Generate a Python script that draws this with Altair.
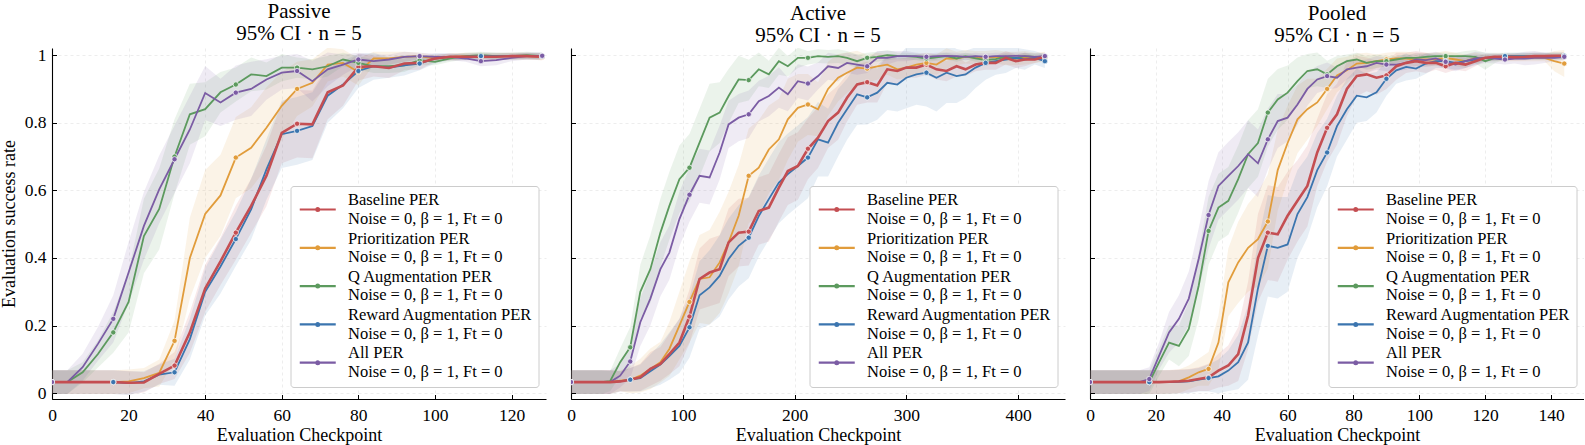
import altair as alt
import pandas as pd

FONT = "Liberation Serif"

# Series names, the shared second legend line, and colours
SERIES = ["Baseline PER", "Prioritization PER", "Q Augmentation PER",
          "Reward Augmentation PER", "All PER"]
SETTINGS = "Noise = 0, β = 1, Ft = 0"
COLORS = ["#c44e52", "#e19c3b", "#5c9a5e", "#3b75af", "#7b5ca4"]
LABELS = [f"{s}|{SETTINGS}" for s in SERIES]

Y_TICKS = [0, 0.2, 0.4, 0.6, 0.8, 1]

# ---------------- Passive ----------------
passive_x = list(range(0, 129, 4))
passive_xticks = [0, 20, 40, 60, 80, 100, 120]
passive_baseline = [0.033, 0.033, 0.033, 0.033, 0.033, 0.031, 0.032, 0.057, 0.082, 0.18,
                    0.31, 0.39, 0.475, 0.554, 0.643, 0.77, 0.797, 0.795, 0.89, 0.91,
                    0.965, 0.967, 0.962, 0.975, 0.977, 0.99, 0.995, 0.995, 0.995, 0.995,
                    0.997, 0.997, 0.995]
passive_prior = [0.033, 0.033, 0.033, 0.033, 0.033, 0.035, 0.045, 0.06, 0.155, 0.40,
                 0.53, 0.585, 0.697, 0.726, 0.785, 0.85, 0.90, 0.918, 0.972, 0.977,
                 0.95, 0.99, 0.99, 0.995, 0.997, 0.99, 0.995, 0.997, 0.997, 0.997,
                 0.997, 0.997, 0.995]
passive_qaug = [0.033, 0.033, 0.062, 0.116, 0.18, 0.27, 0.465, 0.545, 0.70, 0.825,
                0.84, 0.89, 0.913, 0.943, 0.938, 0.963, 0.963, 0.958, 0.967, 0.987,
                0.977, 0.967, 0.967, 0.97, 0.985, 0.98, 0.99, 0.997, 1.0, 0.997,
                0.997, 1.0, 0.997]
passive_reward = [0.033, 0.033, 0.033, 0.033, 0.033, 0.030, 0.035, 0.055, 0.062, 0.16,
                  0.30, 0.375, 0.456, 0.544, 0.662, 0.766, 0.776, 0.79, 0.88, 0.913,
                  0.953, 0.967, 0.963, 0.97, 0.975, 0.99, 0.995, 0.995, 0.997, 0.997,
                  0.997, 0.997, 0.997]
passive_all = [0.033, 0.033, 0.077, 0.146, 0.22, 0.357, 0.495, 0.603, 0.692, 0.78,
               0.888, 0.86, 0.889, 0.90, 0.928, 0.948, 0.953, 0.923, 0.958, 0.972,
               0.987, 0.982, 0.987, 0.995, 0.997, 0.995, 0.995, 0.99, 0.982, 0.985,
               0.992, 0.997, 0.998]
# 95% CI half-widths
passive_baseline_ci = [0.035, 0.035, 0.035, 0.035, 0.035, 0.035, 0.03, 0.03, 0.04, 0.06,
                       0.07, 0.07, 0.08, 0.08, 0.09, 0.09, 0.1, 0.1, 0.08, 0.06,
                       0.04, 0.03, 0.03, 0.02, 0.02, 0.01, 0.01, 0.01, 0.01, 0.01,
                       0.01, 0.01, 0.01]
passive_prior_ci = [0.035, 0.035, 0.035, 0.035, 0.035, 0.035, 0.03, 0.04, 0.06, 0.12,
                    0.13, 0.12, 0.12, 0.12, 0.12, 0.1, 0.08, 0.07, 0.05, 0.04,
                    0.04, 0.02, 0.02, 0.015, 0.01, 0.01, 0.01, 0.01, 0.01, 0.01,
                    0.01, 0.01, 0.01]
passive_qaug_ci = [0.035, 0.035, 0.03, 0.04, 0.06, 0.09, 0.11, 0.12, 0.11, 0.09,
                   0.08, 0.06, 0.05, 0.05, 0.04, 0.04, 0.03, 0.03, 0.03, 0.02,
                   0.02, 0.02, 0.02, 0.02, 0.015, 0.01, 0.01, 0.01, 0.01, 0.01,
                   0.01, 0.01, 0.01]
passive_reward_ci = [0.035, 0.035, 0.035, 0.035, 0.035, 0.035, 0.03, 0.03, 0.04, 0.06,
                     0.07, 0.08, 0.08, 0.09, 0.09, 0.1, 0.1, 0.1, 0.08, 0.07,
                     0.05, 0.04, 0.03, 0.03, 0.02, 0.015, 0.01, 0.01, 0.01, 0.01,
                     0.01, 0.01, 0.01]
passive_all_ci = [0.035, 0.035, 0.04, 0.05, 0.07, 0.09, 0.1, 0.1, 0.1, 0.1,
                  0.08, 0.07, 0.08, 0.08, 0.06, 0.05, 0.05, 0.06, 0.05, 0.03,
                  0.02, 0.02, 0.015, 0.015, 0.01, 0.01, 0.01, 0.01, 0.015, 0.015,
                  0.01, 0.01, 0.01]

# ---------------- Active ----------------
active_x = [0, 9, 18, 27, 35, 44, 53, 62, 71, 80, 88, 97, 106, 115, 124, 133, 141, 150,
            159, 168, 177, 186, 194, 203, 212, 221, 230, 239, 247, 256, 265, 274, 283, 292,
            300, 309, 318, 327, 336, 345, 353, 362, 371, 380, 389, 398, 406, 415, 424]
active_xticks = [0, 100, 200, 300, 400]
active_baseline = [0.033, 0.033, 0.033, 0.033, 0.033, 0.035, 0.04, 0.047, 0.072, 0.087,
                   0.116, 0.15, 0.227, 0.338, 0.357, 0.367, 0.446, 0.475, 0.478, 0.539,
                   0.549, 0.608, 0.657, 0.672, 0.723, 0.756, 0.805, 0.83, 0.874, 0.913,
                   0.92, 0.91, 0.958, 0.953, 0.963, 0.963, 0.972, 0.958, 0.953, 0.967,
                   0.958, 0.972, 0.977, 0.977, 0.992, 0.982, 0.987, 0.987, 0.995]
active_prior = [0.033, 0.033, 0.033, 0.033, 0.033, 0.037, 0.04, 0.052, 0.072, 0.092,
                0.131, 0.2, 0.27, 0.338, 0.343, 0.387, 0.446, 0.525, 0.643, 0.667,
                0.721, 0.751, 0.81, 0.844, 0.854, 0.84, 0.9, 0.933, 0.948, 0.963,
                0.96, 0.967, 0.972, 0.958, 0.963, 0.972, 0.977, 0.972, 0.99, 0.99,
                0.995, 0.992, 0.992, 0.995, 0.99, 0.99, 0.992, 0.992, 0.995]
active_qaug = [0.033, 0.033, 0.033, 0.033, 0.036, 0.092, 0.136, 0.3, 0.367, 0.475,
               0.554, 0.633, 0.667, 0.741, 0.815, 0.83, 0.879, 0.928, 0.926, 0.958,
               0.943, 0.982, 0.967, 0.992, 0.992, 0.997, 0.995, 0.997, 0.992, 0.982,
               0.992, 0.995, 1.0, 0.998, 0.997, 0.995, 0.99, 0.993, 0.997, 0.99,
               0.997, 0.99, 0.985, 0.988, 0.995, 0.99, 0.997, 0.995, 0.995]
active_reward = [0.033, 0.033, 0.033, 0.033, 0.033, 0.035, 0.04, 0.045, 0.065, 0.085,
                 0.11, 0.14, 0.195, 0.29, 0.313, 0.347, 0.397, 0.436, 0.46, 0.524,
                 0.574, 0.623, 0.648, 0.672, 0.697, 0.751, 0.741, 0.8, 0.84, 0.884,
                 0.875, 0.889, 0.918, 0.913, 0.933, 0.943, 0.948, 0.933, 0.948, 0.938,
                 0.943, 0.963, 0.977, 0.982, 0.987, 0.992, 0.987, 0.992, 0.982]
active_all = [0.033, 0.033, 0.033, 0.033, 0.033, 0.052, 0.094, 0.21, 0.28, 0.367,
              0.416, 0.515, 0.587, 0.643, 0.638, 0.712, 0.795, 0.815, 0.825, 0.864,
              0.879, 0.904, 0.884, 0.923, 0.916, 0.938, 0.967, 0.962, 0.977, 0.972,
              0.967, 0.992, 0.992, 0.997, 0.997, 0.997, 0.995, 0.997, 0.998, 0.997,
              0.995, 0.997, 0.995, 0.997, 0.997, 0.998, 0.997, 0.995, 0.997]
active_baseline_ci = [0.035, 0.035, 0.035, 0.035, 0.035, 0.03, 0.035, 0.04, 0.05, 0.05,
                      0.06, 0.07, 0.08, 0.09, 0.1, 0.1, 0.1, 0.1, 0.1, 0.1,
                      0.1, 0.1, 0.1, 0.1, 0.09, 0.09, 0.08, 0.08, 0.07, 0.06,
                      0.06, 0.05, 0.04, 0.04, 0.03, 0.03, 0.03, 0.03, 0.03, 0.03,
                      0.02, 0.02, 0.02, 0.02, 0.02, 0.02, 0.02, 0.01, 0.01]
active_prior_ci = [0.035, 0.035, 0.035, 0.035, 0.035, 0.03, 0.04, 0.05, 0.06, 0.06,
                   0.08, 0.1, 0.12, 0.13, 0.14, 0.15, 0.15, 0.15, 0.14, 0.14,
                   0.13, 0.12, 0.12, 0.1, 0.09, 0.08, 0.08, 0.07, 0.06, 0.05,
                   0.04, 0.04, 0.03, 0.03, 0.03, 0.03, 0.03, 0.03, 0.03, 0.02,
                   0.02, 0.02, 0.02, 0.02, 0.02, 0.02, 0.02, 0.015, 0.015]
active_qaug_ci = [0.035, 0.035, 0.035, 0.035, 0.03, 0.04, 0.06, 0.08, 0.1, 0.1,
                  0.1, 0.1, 0.1, 0.1, 0.1, 0.09, 0.08, 0.07, 0.06, 0.05,
                  0.04, 0.04, 0.03, 0.03, 0.02, 0.02, 0.02, 0.02, 0.02, 0.02,
                  0.015, 0.015, 0.015, 0.01, 0.01, 0.01, 0.01, 0.01, 0.01, 0.01,
                  0.01, 0.01, 0.01, 0.01, 0.01, 0.01, 0.01, 0.01, 0.01]
active_reward_ci = [0.035, 0.035, 0.035, 0.035, 0.035, 0.03, 0.035, 0.04, 0.05, 0.06,
                    0.07, 0.08, 0.09, 0.1, 0.11, 0.12, 0.12, 0.12, 0.12, 0.12,
                    0.12, 0.12, 0.12, 0.12, 0.12, 0.11, 0.1, 0.1, 0.09, 0.09,
                    0.08, 0.08, 0.08, 0.08, 0.09, 0.09, 0.1, 0.1, 0.09, 0.08,
                    0.07, 0.06, 0.05, 0.04, 0.04, 0.03, 0.03, 0.02, 0.02]
active_all_ci = [0.035, 0.035, 0.035, 0.035, 0.035, 0.035, 0.05, 0.07, 0.08, 0.08,
                 0.08, 0.08, 0.08, 0.08, 0.08, 0.08, 0.07, 0.07, 0.07, 0.06,
                 0.06, 0.06, 0.05, 0.05, 0.05, 0.04, 0.04, 0.04, 0.03, 0.03,
                 0.02, 0.02, 0.02, 0.015, 0.015, 0.01, 0.01, 0.01, 0.01, 0.01,
                 0.01, 0.01, 0.01, 0.01, 0.01, 0.01, 0.01, 0.01, 0.01]

# ---------------- Pooled ----------------
pooled_x = list(range(0, 145, 3))
pooled_xticks = [0, 20, 40, 60, 80, 100, 120, 140]
pooled_baseline = [0.033, 0.033, 0.033, 0.033, 0.033, 0.033, 0.033, 0.033, 0.034, 0.035,
                   0.037, 0.042, 0.047, 0.067, 0.082, 0.116, 0.23, 0.40, 0.475, 0.47,
                   0.525, 0.569, 0.613, 0.712, 0.785, 0.825, 0.9, 0.938, 0.943, 0.933,
                   0.94, 0.967, 0.977, 0.982, 0.977, 0.977, 0.967, 0.977, 0.972, 0.982,
                   0.992, 0.995, 0.995, 0.994, 0.995, 0.997, 0.997, 0.998, 0.998]
pooled_prior = [0.033, 0.033, 0.033, 0.033, 0.033, 0.033, 0.033, 0.033, 0.033, 0.035,
                0.047, 0.062, 0.072, 0.15, 0.328, 0.387, 0.43, 0.456, 0.508, 0.66,
                0.74, 0.81, 0.84, 0.86, 0.90, 0.94, 0.955, 0.975, 0.977, 0.982,
                0.987, 0.99, 0.99, 0.987, 0.987, 0.987, 0.992, 0.987, 0.982, 0.992,
                0.992, 0.992, 0.992, 0.992, 0.992, 0.992, 0.992, 0.982, 0.975]
pooled_qaug = [0.033, 0.033, 0.033, 0.033, 0.033, 0.033, 0.033, 0.092, 0.15, 0.14,
               0.19, 0.318, 0.48, 0.549, 0.569, 0.633, 0.707, 0.74, 0.83, 0.869,
               0.889, 0.923, 0.953, 0.958, 0.943, 0.967, 0.982, 0.987, 0.977, 0.982,
               0.982, 0.987, 0.992, 0.992, 0.995, 0.997, 0.997, 0.997, 0.997, 0.995,
               0.982, 0.992, 0.997, 0.997, 0.997, 0.997, 0.997, 0.997, 0.997]
pooled_reward = [0.033, 0.033, 0.033, 0.033, 0.033, 0.033, 0.033, 0.033, 0.033, 0.034,
                 0.035, 0.04, 0.045, 0.05, 0.067, 0.092, 0.15, 0.31, 0.436, 0.43,
                 0.44, 0.53, 0.58, 0.66, 0.712, 0.79, 0.84, 0.88, 0.875, 0.89,
                 0.93, 0.955, 0.965, 0.96, 0.975, 0.982, 0.982, 0.977, 0.982, 0.987,
                 0.992, 0.992, 0.997, 0.997, 0.997, 0.997, 0.997, 0.998, 0.998]
pooled_all = [0.033, 0.033, 0.033, 0.033, 0.033, 0.033, 0.042, 0.111, 0.18, 0.22,
              0.28, 0.397, 0.527, 0.613, 0.643, 0.672, 0.707, 0.68, 0.751, 0.805,
              0.815, 0.854, 0.9, 0.928, 0.938, 0.933, 0.958, 0.963, 0.967, 0.977,
              0.972, 0.972, 0.977, 0.987, 0.985, 0.99, 0.98, 0.972, 0.982, 0.99,
              0.992, 0.99, 0.987, 0.99, 0.99, 0.992, 0.992, 0.992, 0.995]
pooled_baseline_ci = [0.035, 0.035, 0.035, 0.035, 0.035, 0.035, 0.035, 0.035, 0.035, 0.035,
                      0.035, 0.035, 0.04, 0.05, 0.06, 0.08, 0.1, 0.13, 0.14, 0.14,
                      0.13, 0.12, 0.12, 0.1, 0.1, 0.09, 0.08, 0.06, 0.05, 0.05,
                      0.04, 0.04, 0.03, 0.03, 0.03, 0.02, 0.02, 0.02, 0.02, 0.015,
                      0.01, 0.01, 0.01, 0.01, 0.01, 0.01, 0.01, 0.01, 0.01]
pooled_prior_ci = [0.035, 0.035, 0.035, 0.035, 0.035, 0.035, 0.035, 0.035, 0.035, 0.035,
                   0.035, 0.04, 0.05, 0.08, 0.1, 0.12, 0.13, 0.14, 0.14, 0.12,
                   0.11, 0.1, 0.09, 0.07, 0.06, 0.05, 0.04, 0.03, 0.03, 0.02,
                   0.02, 0.02, 0.02, 0.02, 0.02, 0.02, 0.02, 0.02, 0.02, 0.015,
                   0.01, 0.01, 0.01, 0.01, 0.01, 0.01, 0.01, 0.03, 0.04]
pooled_qaug_ci = [0.035, 0.035, 0.035, 0.035, 0.035, 0.035, 0.035, 0.04, 0.05, 0.06,
                  0.08, 0.1, 0.1, 0.1, 0.1, 0.1, 0.1, 0.1, 0.1, 0.09,
                  0.08, 0.07, 0.05, 0.05, 0.04, 0.03, 0.02, 0.02, 0.02, 0.02,
                  0.015, 0.01, 0.01, 0.01, 0.01, 0.01, 0.01, 0.01, 0.015, 0.02,
                  0.025, 0.015, 0.01, 0.01, 0.01, 0.01, 0.01, 0.01, 0.01]
pooled_reward_ci = [0.035, 0.035, 0.035, 0.035, 0.035, 0.035, 0.035, 0.035, 0.035, 0.035,
                    0.035, 0.035, 0.04, 0.05, 0.06, 0.08, 0.11, 0.14, 0.15, 0.15,
                    0.14, 0.13, 0.12, 0.11, 0.1, 0.09, 0.09, 0.08, 0.07, 0.06,
                    0.05, 0.04, 0.04, 0.03, 0.03, 0.02, 0.02, 0.02, 0.02, 0.015,
                    0.01, 0.01, 0.01, 0.01, 0.01, 0.01, 0.01, 0.01, 0.01]
pooled_all_ci = [0.035, 0.035, 0.035, 0.035, 0.035, 0.035, 0.035, 0.04, 0.06, 0.07,
                 0.08, 0.09, 0.1, 0.1, 0.1, 0.1, 0.1, 0.1, 0.09, 0.08,
                 0.07, 0.06, 0.05, 0.04, 0.04, 0.03, 0.03, 0.02, 0.02, 0.02,
                 0.02, 0.02, 0.02, 0.02, 0.02, 0.02, 0.02, 0.02, 0.02, 0.02,
                 0.015, 0.015, 0.015, 0.015, 0.02, 0.02, 0.015, 0.01, 0.01]

# Plot-area size of each panel, in pixels
W = 494
H = 351

# Legend key: a 36px line with a dot in its middle, drawn in a 10px symbol box
# (path units are 5px) and lowered by half a label line so that it sits
# between the two lines of its label.
LEGEND_PATH = ("M-1,1.85H6.2"
               "M2.32,1.85A0.28,0.28,0,1,0,2.88,1.85A0.28,0.28,0,1,0,2.32,1.85")


def frame(xs, means, cis, every):
    rows = []
    for name, label, vals, hws in zip(SERIES, LABELS, means, cis):
        assert len(vals) == len(xs) == len(hws), label
        for i, (x, v, h) in enumerate(zip(xs, vals, hws)):
            rows.append({"x": x, "y": v, "lo": v - h, "hi": v + h,
                         "series": label, "grp": name,
                         "marker": int(i % every == 0)})
    return pd.DataFrame(rows)


def panel(name, df, xmax, xticks, show_y):
    xscale = alt.Scale(domain=[0, xmax], nice=False, zero=False)
    yscale = alt.Scale(domain=[-0.017, 1.021], nice=False, zero=False)
    base = alt.Chart(df)

    # inward-pointing tick marks, drawn by axes placed on the opposite side
    tick_x = alt.Axis(orient="top", offset=-H, values=xticks, labels=False,
                      domain=False, grid=False, ticks=True, tickSize=4.5,
                      tickColor="black", tickWidth=1, title=None, zindex=1)
    tick_y = alt.Axis(orient="right", offset=-W, values=Y_TICKS, labels=False,
                      domain=False, grid=False, ticks=True, tickSize=4.5,
                      tickColor="black", tickWidth=1, title=None, zindex=1)
    main_x = alt.Axis(values=xticks, title="Evaluation Checkpoint", tickSize=0,
                      labelPadding=7, titlePadding=3, grid=True, domainWidth=1.1,
                      labelFlush=False)
    main_y = alt.Axis(values=Y_TICKS, format="~g",
                      title="Evaluation success rate" if show_y else None,
                      labels=show_y, tickSize=0, labelPadding=6, titlePadding=6,
                      grid=True, domainWidth=1.1)

    legend = alt.Legend(orient="none", legendX=238.5, legendY=138, title=None,
                        symbolType=LEGEND_PATH, symbolSize=100,
                        symbolStrokeWidth=2.2, labelFont=FONT, labelFontSize=16.5,
                        labelColor="black", labelLimit=400, labelOffset=35,
                        labelExpr="split(datum.label, '|')", padding=6,
                        rowPadding=2.3, strokeColor="#cccccc", fillColor="white",
                        cornerRadius=3)
    color = alt.Color("series:N", scale=alt.Scale(domain=LABELS, range=COLORS),
                      legend=legend)
    # band and marker fills use their own scale (own domain) without a legend
    fill = alt.Fill("grp:N", scale=alt.Scale(domain=SERIES, range=COLORS),
                    legend=None)

    band = base.mark_area(opacity=0.12, clip=True).encode(
        x=alt.X("x:Q", scale=xscale, axis=tick_x),
        y=alt.Y("lo:Q", scale=yscale, axis=tick_y),
        y2="hi:Q",
        fill=fill,
    )
    others = base.transform_filter(alt.datum.series != LABELS[0]).mark_line(
        strokeWidth=1.8, clip=True).encode(
        x=alt.X("x:Q", scale=xscale, axis=main_x),
        y=alt.Y("y:Q", scale=yscale, axis=main_y),
        color=color,
    )
    baseline = base.transform_filter(alt.datum.series == LABELS[0]).mark_line(
        strokeWidth=2.6, clip=True).encode(
        x=alt.X("x:Q", scale=xscale, axis=None),
        y=alt.Y("y:Q", scale=yscale, axis=None),
        color=color,
    )
    markers = base.transform_filter(alt.datum.marker == 1).mark_point(
        filled=True, size=28, stroke="white", strokeWidth=0.7, opacity=1,
        clip=True).encode(
        x=alt.X("x:Q", scale=xscale, axis=None),
        y=alt.Y("y:Q", scale=yscale, axis=None),
        fill=fill,
    )
    return alt.layer(band, others, baseline, markers).resolve_axis(
        x="independent", y="independent"
    ).properties(
        width=W, height=H,
        title=alt.TitleParams([name, "95% CI · n = 5"], anchor="middle",
                              font=FONT, fontSize=21, fontWeight="normal",
                              color="black", lineHeight=22, offset=2),
    )


passive = frame(passive_x,
                [passive_baseline, passive_prior, passive_qaug, passive_reward, passive_all],
                [passive_baseline_ci, passive_prior_ci, passive_qaug_ci,
                 passive_reward_ci, passive_all_ci], 4)
active = frame(active_x,
               [active_baseline, active_prior, active_qaug, active_reward, active_all],
               [active_baseline_ci, active_prior_ci, active_qaug_ci,
                active_reward_ci, active_all_ci], 6)
pooled = frame(pooled_x,
               [pooled_baseline, pooled_prior, pooled_qaug, pooled_reward, pooled_all],
               [pooled_baseline_ci, pooled_prior_ci, pooled_qaug_ci,
                pooled_reward_ci, pooled_all_ci], 6)

chart = alt.hconcat(
    panel("Passive", passive, 129, passive_xticks, True),
    panel("Active", active, 442, active_xticks, False),
    panel("Pooled", pooled, 150, pooled_xticks, False),
    spacing=25, bounds="flush",
).resolve_scale(
    x="independent", y="independent", color="independent", fill="independent"
).resolve_legend(
    color="independent"
).properties(
    padding={"left": 0, "top": 1, "right": 0, "bottom": 0},
    background="white",
).configure(
    font=FONT
).configure_view(
    stroke=None
).configure_axis(
    labelFont=FONT, titleFont=FONT, labelColor="black", titleColor="black",
    labelFontSize=17.5, titleFontSize=18, titleFontWeight="normal",
    domainColor="black", gridColor="#e8e8e8", gridDash=[3, 3], gridWidth=0.8,
)

chart.save("out.html", embed_options={"renderer": "svg", "actions": False})
